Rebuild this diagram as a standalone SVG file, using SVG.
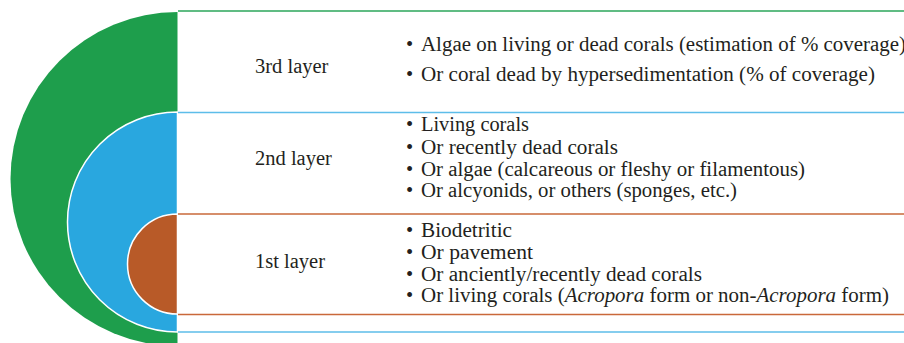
<svg xmlns="http://www.w3.org/2000/svg" width="904" height="343" viewBox="0 0 904 343">
<rect width="904" height="343" fill="#ffffff"/>
<g id="layer3">
<path d="M177.5,12 A167,167 0 0 0 177.5,346 Z" fill="#1e9e4c"/>
<text x="255" y="73" font-family="Liberation Serif" font-size="20.5" fill="#231f20">3rd layer</text>
<text x="406" y="51" font-family="Liberation Serif" font-size="20.5" fill="#231f20">•</text>
<text x="421" y="51" font-family="Liberation Serif" font-size="20.5" fill="#231f20" textLength="485" lengthAdjust="spacingAndGlyphs">Algae on living or dead corals (estimation of % coverage)</text>
<text x="406" y="81" font-family="Liberation Serif" font-size="20.5" fill="#231f20">•</text>
<text x="421" y="81" font-family="Liberation Serif" font-size="20.5" fill="#231f20" textLength="454" lengthAdjust="spacingAndGlyphs">Or coral dead by hypersedimentation (% of coverage)</text>
</g>
<g id="layer2">
<path d="M177.5,112 A110,110 0 0 0 177.5,332 Z" fill="#29a7df" stroke="#ffffff" stroke-width="1.5"/>
<text x="255" y="165" font-family="Liberation Serif" font-size="20.5" fill="#231f20">2nd layer</text>
<text x="406" y="131" font-family="Liberation Serif" font-size="20.5" fill="#231f20">•</text>
<text x="421" y="131" font-family="Liberation Serif" font-size="20.5" fill="#231f20" textLength="108" lengthAdjust="spacingAndGlyphs">Living corals</text>
<text x="406" y="154" font-family="Liberation Serif" font-size="20.5" fill="#231f20">•</text>
<text x="421" y="154" font-family="Liberation Serif" font-size="20.5" fill="#231f20" textLength="197" lengthAdjust="spacingAndGlyphs">Or recently dead corals</text>
<text x="406" y="176" font-family="Liberation Serif" font-size="20.5" fill="#231f20">•</text>
<text x="421" y="176" font-family="Liberation Serif" font-size="20.5" fill="#231f20" textLength="384" lengthAdjust="spacingAndGlyphs">Or algae (calcareous or fleshy or filamentous)</text>
<text x="406" y="197" font-family="Liberation Serif" font-size="20.5" fill="#231f20">•</text>
<text x="421" y="197" font-family="Liberation Serif" font-size="20.5" fill="#231f20" textLength="316" lengthAdjust="spacingAndGlyphs">Or alcyonids, or others (sponges, etc.)</text>
</g>
<g id="layer1">
<path d="M177.5,214 A50,50 0 0 0 177.5,314 Z" fill="#b85a28" stroke="#ffffff" stroke-width="1.5"/>
<text x="255" y="268" font-family="Liberation Serif" font-size="20.5" fill="#231f20">1st layer</text>
<text x="406" y="237" font-family="Liberation Serif" font-size="20.5" fill="#231f20">•</text>
<text x="421" y="237" font-family="Liberation Serif" font-size="20.5" fill="#231f20" textLength="91" lengthAdjust="spacingAndGlyphs">Biodetritic</text>
<text x="406" y="259" font-family="Liberation Serif" font-size="20.5" fill="#231f20">•</text>
<text x="421" y="259" font-family="Liberation Serif" font-size="20.5" fill="#231f20" textLength="112" lengthAdjust="spacingAndGlyphs">Or pavement</text>
<text x="406" y="281" font-family="Liberation Serif" font-size="20.5" fill="#231f20">•</text>
<text x="421" y="281" font-family="Liberation Serif" font-size="20.5" fill="#231f20" textLength="281" lengthAdjust="spacingAndGlyphs">Or anciently/recently dead corals</text>
<text x="406" y="302" font-family="Liberation Serif" font-size="20.5" fill="#231f20">•</text>
<text x="421" y="302" font-family="Liberation Serif" font-size="20.5" fill="#231f20" textLength="468" lengthAdjust="spacingAndGlyphs">Or living corals (<tspan font-style="italic">Acropora</tspan> form or non-<tspan font-style="italic">Acropora</tspan> form)</text>
</g>
<g id="connectors" fill="none" stroke-width="1.5">
<line x1="178" y1="11" x2="904" y2="11" stroke="#2ba65a"/>
<line x1="178" y1="112.5" x2="904" y2="112.5" stroke="#5dbde9"/>
<line x1="178" y1="214" x2="904" y2="214" stroke="#c9683a"/>
<line x1="178" y1="314.5" x2="904" y2="314.5" stroke="#c9683a"/>
<line x1="178" y1="332" x2="904" y2="332" stroke="#5dbde9"/>
</g>
</svg>
